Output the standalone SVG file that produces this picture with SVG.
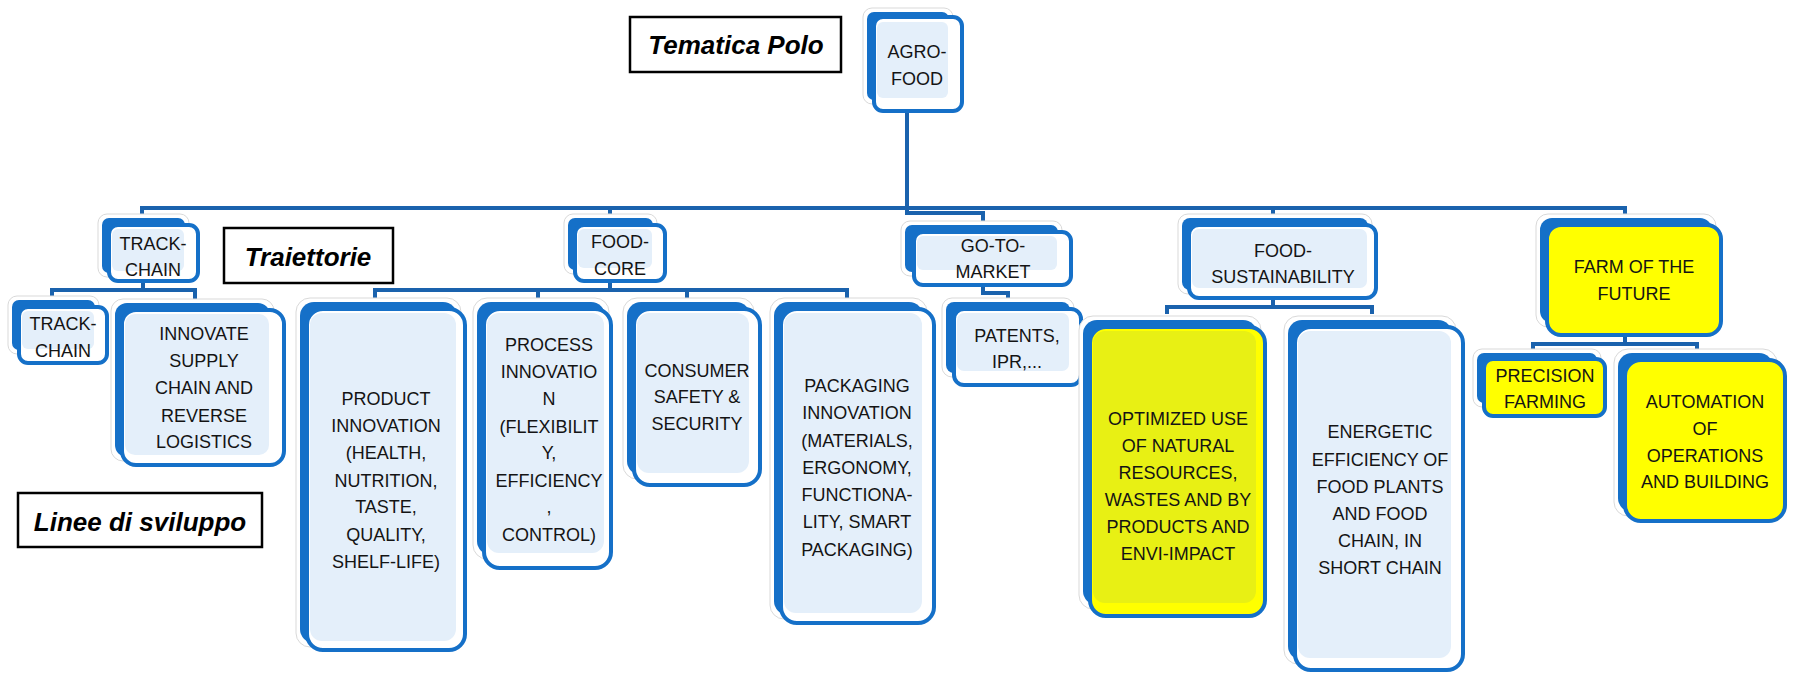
<svg xmlns="http://www.w3.org/2000/svg" width="1794" height="675" viewBox="0 0 1794 675">
<style>
.halo{fill:#ffffff;stroke:#d9d9d9;stroke-width:1}
.back{fill:#1570c8}
.front{fill:#ffffff;stroke:#1570c8;stroke-width:4}
.inner{fill:#e4effa}
.yfront{fill:#ffff00;stroke:#1570c8;stroke-width:4}
.yinner{fill:#ffff00}
.ginner{fill:#e8f014}
.t{font-family:"Liberation Sans",Arial,sans-serif;font-size:18px;fill:#141414;text-anchor:middle}
.lbl{fill:#ffffff;stroke:#000000;stroke-width:2.5}
.lt{font-family:"Liberation Sans",Arial,sans-serif;font-weight:bold;font-style:italic;font-size:26px;fill:#000000;text-anchor:middle}
.c{fill:none;stroke:#1a62ad;stroke-width:4;stroke-linejoin:miter}
</style>
<rect width="1794" height="675" fill="#ffffff"/>
<g id="connectors">
<polyline class="c" points="907,113 907,213 983,213 983,224"/>
<polyline class="c" points="142,216 142,208 1625,208 1625,216"/>
<line class="c" x1="610" y1="208" x2="610" y2="216"/>
<line class="c" x1="1273" y1="208" x2="1273" y2="216"/>
<line class="c" x1="143" y1="283" x2="143" y2="290"/>
<polyline class="c" points="52,298 52,290 195,290 195,302"/>
<line class="c" x1="610" y1="283" x2="610" y2="290"/>
<polyline class="c" points="375,299 375,290 847,290 847,299"/>
<line class="c" x1="538" y1="290" x2="538" y2="299"/>
<line class="c" x1="687" y1="290" x2="687" y2="299"/>
<polyline class="c" points="983,287 983,293 1008,293 1008,300"/>
<line class="c" x1="1273" y1="300" x2="1273" y2="307"/>
<polyline class="c" points="1167,314 1167,307 1372,307 1372,314"/>
<line class="c" x1="1625" y1="337" x2="1625" y2="344"/>
<polyline class="c" points="1533,351 1533,344 1697,344 1697,351"/>
</g>
<g id="label-tematica">
<rect class="lbl" x="630" y="17" width="211" height="55"/>
<text class="lt" x="736" y="54">Tematica Polo</text>
</g>
<g id="label-traiettorie">
<rect class="lbl" x="224" y="228" width="169" height="55"/>
<text class="lt" x="308" y="266">Traiettorie</text>
</g>
<g id="label-linee">
<rect class="lbl" x="18" y="493" width="244" height="54"/>
<text class="lt" x="140" y="531" font-size="24">Linee di sviluppo</text>
</g>
<g id="agro-food">
<rect class="halo" x="863" y="8" width="90" height="96" rx="9"/>
<rect class="back" x="867" y="12" width="82" height="88" rx="7"/>
<rect class="front" x="874" y="17" width="88" height="94" rx="9"/>
<rect class="inner" x="877" y="22" width="71" height="76" rx="6"/>
<text class="t" x="917" y="58">AGRO-</text>
<text class="t" x="917" y="85">FOOD</text>
</g>
<g id="track-chain">
<rect class="halo" x="98" y="214" width="91" height="63" rx="9"/>
<rect class="back" x="102" y="218" width="83" height="55" rx="7"/>
<rect class="front" x="109" y="225" width="89" height="56" rx="9"/>
<rect class="inner" x="112" y="229" width="72" height="42" rx="6"/>
<text class="t" x="153" y="250">TRACK-</text>
<text class="t" x="153" y="276">CHAIN</text>
</g>
<g id="track-chain-2">
<rect class="halo" x="8" y="296" width="91" height="58" rx="9"/>
<rect class="back" x="12" y="300" width="83" height="50" rx="7"/>
<rect class="front" x="19" y="307" width="88" height="56" rx="9"/>
<rect class="inner" x="22" y="311" width="72" height="38" rx="6"/>
<text class="t" x="63" y="330">TRACK-</text>
<text class="t" x="63" y="357">CHAIN</text>
</g>
<g id="innovate-supply">
<rect class="halo" x="111" y="299" width="163" height="162" rx="12"/>
<rect class="back" x="115" y="303" width="155" height="154" rx="12"/>
<rect class="front" x="122" y="310" width="162" height="155" rx="14"/>
<rect class="inner" x="125" y="314" width="144" height="141" rx="10"/>
<text class="t" x="204" y="340">INNOVATE</text>
<text class="t" x="204" y="367">SUPPLY</text>
<text class="t" x="204" y="394">CHAIN AND</text>
<text class="t" x="204" y="422">REVERSE</text>
<text class="t" x="204" y="448">LOGISTICS</text>
</g>
<g id="food-core">
<rect class="halo" x="564" y="214" width="93" height="60" rx="9"/>
<rect class="back" x="568" y="218" width="85" height="52" rx="7"/>
<rect class="front" x="575" y="225" width="90" height="56" rx="9"/>
<rect class="inner" x="578" y="229" width="74" height="39" rx="6"/>
<text class="t" x="620" y="248">FOOD-</text>
<text class="t" x="620" y="275">CORE</text>
</g>
<g id="product-innovation">
<rect class="halo" x="296" y="298" width="165" height="349" rx="14"/>
<rect class="back" x="300" y="302" width="157" height="341" rx="14"/>
<rect class="front" x="307" y="309" width="158" height="341" rx="16"/>
<rect class="inner" x="310" y="313" width="146" height="328" rx="12"/>
<text class="t" x="386" y="405">PRODUCT</text>
<text class="t" x="386" y="432">INNOVATION</text>
<text class="t" x="386" y="459">(HEALTH,</text>
<text class="t" x="386" y="487">NUTRITION,</text>
<text class="t" x="386" y="513">TASTE,</text>
<text class="t" x="386" y="541">QUALITY,</text>
<text class="t" x="386" y="568">SHELF-LIFE)</text>
</g>
<g id="process-innovation">
<rect class="halo" x="473" y="298" width="136" height="261" rx="14"/>
<rect class="back" x="477" y="302" width="128" height="253" rx="14"/>
<rect class="front" x="484" y="309" width="127" height="259" rx="16"/>
<rect class="inner" x="487" y="313" width="117" height="240" rx="12"/>
<text class="t" x="549" y="351">PROCESS</text>
<text class="t" x="549" y="378">INNOVATIO</text>
<text class="t" x="549" y="405">N</text>
<text class="t" x="549" y="433">(FLEXIBILIT</text>
<text class="t" x="549" y="459">Y,</text>
<text class="t" x="549" y="487">EFFICIENCY</text>
<text class="t" x="549" y="513">,</text>
<text class="t" x="549" y="541">CONTROL)</text>
</g>
<g id="consumer-safety">
<rect class="halo" x="623" y="298" width="131" height="181" rx="14"/>
<rect class="back" x="627" y="302" width="123" height="173" rx="14"/>
<rect class="front" x="634" y="309" width="126" height="176" rx="16"/>
<rect class="inner" x="637" y="313" width="112" height="160" rx="12"/>
<text class="t" x="697" y="377">CONSUMER</text>
<text class="t" x="697" y="403">SAFETY &amp;</text>
<text class="t" x="697" y="430">SECURITY</text>
</g>
<g id="packaging-innovation">
<rect class="halo" x="770" y="298" width="157" height="321" rx="14"/>
<rect class="back" x="774" y="302" width="149" height="313" rx="14"/>
<rect class="front" x="781" y="309" width="153" height="314" rx="16"/>
<rect class="inner" x="784" y="313" width="138" height="300" rx="12"/>
<text class="t" x="857" y="392">PACKAGING</text>
<text class="t" x="857" y="419">INNOVATION</text>
<text class="t" x="857" y="447">(MATERIALS,</text>
<text class="t" x="857" y="474">ERGONOMY,</text>
<text class="t" x="857" y="501">FUNCTIONA-</text>
<text class="t" x="857" y="528">LITY, SMART</text>
<text class="t" x="857" y="556">PACKAGING)</text>
</g>
<g id="go-to-market">
<rect class="halo" x="901" y="221" width="161" height="55" rx="9"/>
<rect class="back" x="905" y="225" width="153" height="47" rx="7"/>
<rect class="front" x="914" y="232" width="157" height="53" rx="9"/>
<rect class="inner" x="917" y="236" width="140" height="34" rx="6"/>
<text class="t" x="993" y="252">GO-TO-</text>
<text class="t" x="993" y="278">MARKET</text>
</g>
<g id="patents-ipr">
<rect class="halo" x="942" y="298" width="132" height="79" rx="10"/>
<rect class="back" x="946" y="302" width="124" height="71" rx="8"/>
<rect class="front" x="954" y="309" width="127" height="76" rx="10"/>
<rect class="inner" x="957" y="313" width="112" height="58" rx="7"/>
<text class="t" x="1017" y="342">PATENTS,</text>
<text class="t" x="1017" y="368">IPR,...</text>
</g>
<g id="food-sustainability">
<rect class="halo" x="1178" y="214" width="194" height="80" rx="10"/>
<rect class="back" x="1182" y="218" width="186" height="72" rx="8"/>
<rect class="front" x="1189" y="225" width="187" height="73" rx="10"/>
<rect class="inner" x="1192" y="229" width="175" height="59" rx="7"/>
<text class="t" x="1283" y="257">FOOD-</text>
<text class="t" x="1283" y="283">SUSTAINABILITY</text>
</g>
<g id="optimized-use">
<rect class="halo" x="1079" y="316" width="182" height="293" rx="14"/>
<rect class="back" x="1083" y="320" width="174" height="285" rx="14"/>
<rect class="yfront" x="1090" y="327" width="175" height="289" rx="16"/>
<rect class="ginner" x="1093" y="331" width="163" height="272" rx="12"/>
<text class="t" x="1178" y="425">OPTIMIZED USE</text>
<text class="t" x="1178" y="452">OF NATURAL</text>
<text class="t" x="1178" y="479">RESOURCES,</text>
<text class="t" x="1178" y="506">WASTES AND BY</text>
<text class="t" x="1178" y="533">PRODUCTS AND</text>
<text class="t" x="1178" y="560">ENVI-IMPACT</text>
</g>
<g id="energetic-efficiency">
<rect class="halo" x="1284" y="316" width="172" height="348" rx="14"/>
<rect class="back" x="1288" y="320" width="164" height="340" rx="14"/>
<rect class="front" x="1295" y="327" width="168" height="343" rx="16"/>
<rect class="inner" x="1298" y="331" width="153" height="327" rx="12"/>
<text class="t" x="1380" y="438">ENERGETIC</text>
<text class="t" x="1380" y="466">EFFICIENCY OF</text>
<text class="t" x="1380" y="493">FOOD PLANTS</text>
<text class="t" x="1380" y="520">AND FOOD</text>
<text class="t" x="1380" y="547">CHAIN, IN</text>
<text class="t" x="1380" y="574">SHORT CHAIN</text>
</g>
<g id="farm-of-the-future">
<rect class="halo" x="1536" y="214" width="180" height="113" rx="12"/>
<rect class="back" x="1540" y="218" width="172" height="105" rx="12"/>
<rect class="yfront" x="1547" y="225" width="174" height="110" rx="14"/>
<rect class="yinner" x="1550" y="229" width="161" height="92" rx="10"/>
<text class="t" x="1634" y="273">FARM OF THE</text>
<text class="t" x="1634" y="300">FUTURE</text>
</g>
<g id="precision-farming">
<rect class="halo" x="1473" y="349" width="128" height="58" rx="9"/>
<rect class="back" x="1477" y="353" width="120" height="50" rx="7"/>
<rect class="yfront" x="1484" y="359" width="121" height="57" rx="9"/>
<rect class="yinner" x="1487" y="363" width="109" height="38" rx="6"/>
<text class="t" x="1545" y="382">PRECISION</text>
<text class="t" x="1545" y="408">FARMING</text>
</g>
<g id="automation">
<rect class="halo" x="1614" y="349" width="163" height="167" rx="14"/>
<rect class="back" x="1618" y="353" width="155" height="159" rx="14"/>
<rect class="yfront" x="1625" y="360" width="160" height="161" rx="16"/>
<rect class="yinner" x="1628" y="364" width="144" height="146" rx="12"/>
<text class="t" x="1705" y="408">AUTOMATION</text>
<text class="t" x="1705" y="435">OF</text>
<text class="t" x="1705" y="462">OPERATIONS</text>
<text class="t" x="1705" y="488">AND BUILDING</text>
</g>
</svg>
